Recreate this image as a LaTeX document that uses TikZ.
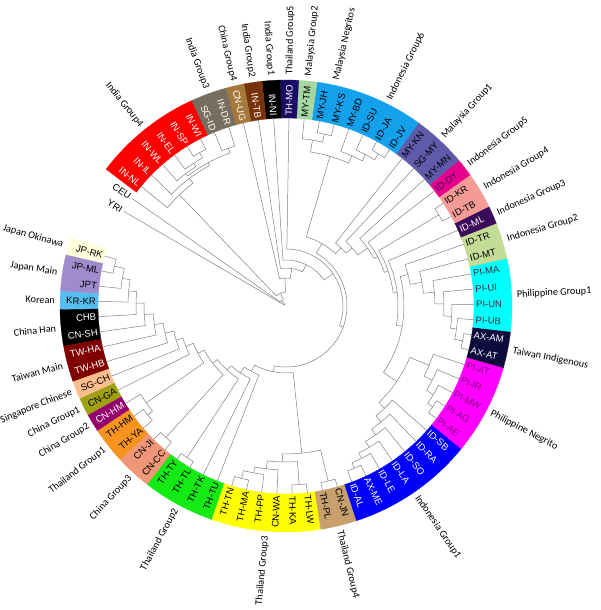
\documentclass[tikz,border=0pt]{standalone}
\usepackage{fontspec}
\setmainfont{Liberation Sans}
\newfontfamily\grpfont{Carlito}
\usetikzlibrary{positioning}

\definecolor{cCream}{RGB}{255,255,220}
\definecolor{cLav}{RGB}{160,140,205}
\definecolor{cKor}{RGB}{85,190,240}
\definecolor{cDRed}{RGB}{128,0,0}
\definecolor{cPeach}{RGB}{250,190,140}
\definecolor{cOlive}{RGB}{160,160,20}
\definecolor{cPlum}{RGB}{150,0,110}
\definecolor{cOrange}{RGB}{247,147,30}
\definecolor{cSalmon}{RGB}{240,150,120}
\definecolor{cGreen}{RGB}{20,235,20}
\definecolor{cYellow}{RGB}{255,255,0}
\definecolor{cTan}{RGB}{200,160,110}
\definecolor{cBlue}{RGB}{0,0,255}
\definecolor{cMag}{RGB}{255,0,255}
\definecolor{cNavy}{RGB}{15,10,60}
\definecolor{cCyan}{RGB}{0,255,255}
\definecolor{cPaleG}{RGB}{195,220,150}
\definecolor{cDPurp}{RGB}{60,10,90}
\definecolor{cPink}{RGB}{245,155,150}
\definecolor{cDeepPk}{RGB}{230,0,140}
\definecolor{cSlate}{RGB}{95,90,170}
\definecolor{cSky}{RGB}{20,160,235}
\definecolor{cLtGreen}{RGB}{165,215,160}
\definecolor{cMoNavy}{RGB}{25,10,100}
\definecolor{cBrown}{RGB}{120,50,10}
\definecolor{cLtBrown}{RGB}{165,120,60}
\definecolor{cGrBrown}{RGB}{120,110,95}
\definecolor{cRed}{RGB}{255,0,0}
\definecolor{cPiTxt}{RGB}{130,0,130}

% leaf angle from its index
\newcommand\leafang[1]{164.6+(#1-1)*4.664}

% a leaf: name, index
\newcommand\lf[2]{%
  \pgfmathsetmacro\tmpang{\leafang{#2}}%
  \expandafter\xdef\csname dA#1\endcsname{\tmpang}%
  \expandafter\xdef\csname dR#1\endcsname{188}}

% a join: new name, radius, lower child, upper child
\newcommand\jn[4]{%
  \edef\dAa{\csname dA#3\endcsname}\edef\dAb{\csname dA#4\endcsname}%
  \edef\dRa{\csname dR#3\endcsname}\edef\dRb{\csname dR#4\endcsname}%
  \draw[branch] (\dAa:\dRa) -- (\dAa:#2)
    arc[start angle=\dAa, end angle=\dAb, radius=#2] -- (\dAb:\dRb);%
  \pgfmathsetmacro\tmpang{(\dAa+\dAb)/2}%
  \expandafter\xdef\csname dA#1\endcsname{\tmpang}%
  \expandafter\xdef\csname dR#1\endcsname{#2}}

% coloured band of the ring: first, last leaf, colour
\newcommand\band[3]{%
  \pgfmathsetmacro\bA{\leafang{#1-0.5}}%
  \pgfmathsetmacro\bB{\leafang{#2+0.5}}%
  \fill[#3, draw=#3, line width=0.3] (\bA:188) arc[start angle=\bA, end angle=\bB, radius=188]
    -- (\bB:226) arc[start angle=\bB, end angle=\bA, radius=226] -- cycle;}

% text turned along the radius: name, angle, radius, style, text
\newcommand\rtext[5]{%
  \pgfmathsetmacro\tmpang{mod(#2,360)}%
  \pgfmathtruncatemacro\flip{(\tmpang>90 && \tmpang<270) ? 1 : 0}%
  \ifnum\flip=1
    \node[#4, anchor=east, rotate=\tmpang-180] (#1) at (\tmpang:#3) {#5};
  \else
    \node[#4, anchor=west, rotate=\tmpang] (#1) at (\tmpang:#3) {#5};
  \fi}

% leaf label: index, text, colour
\newcommand\lab[3]{\rtext{l#1}{\leafang{#1}}{189}{leaftxt, text=#3}{#2}}
% group label: name, first, last, text
\newcommand\grp[4]{\rtext{#1}{\leafang{(#2+#3)/2}}{231}{grptxt}{#4}}

\begin{document}
\begin{tikzpicture}[x=1pt, y=1pt,
  branch/.style={draw=black!50, line width=0.5},
  leaftxt/.style={inner sep=1, font=\fontsize{9.5}{11}\selectfont},
  grptxt/.style={inner sep=0, font=\grpfont\fontsize{10.2}{12}\selectfont}]
  \useasboundingbox (-286,-304) rectangle (314,306);

  % ring
  \band{1}{1}{cCream}   \band{2}{3}{cLav}     \band{4}{4}{cKor}
  \band{5}{6}{black}    \band{7}{8}{cDRed}    \band{9}{9}{cPeach}
  \band{10}{10}{cOlive} \band{11}{11}{cPlum}  \band{12}{13}{cOrange}
  \band{14}{15}{cSalmon}\band{16}{19}{cGreen} \band{20}{25}{cYellow}
  \band{26}{27}{cTan}   \band{28}{34}{cBlue}  \band{35}{39}{cMag}
  \band{40}{41}{cNavy}  \band{42}{45}{cCyan}  \band{46}{47}{cPaleG}
  \band{48}{48}{cDPurp} \band{49}{50}{cPink}  \band{51}{51}{cDeepPk}
  \band{52}{54}{cSlate} \band{55}{60}{cSky}   \band{61}{61}{cLtGreen}
  \band{62}{62}{cMoNavy}\band{63}{63}{black}  \band{64}{64}{cBrown}
  \band{65}{65}{cLtBrown}\band{66}{67}{cGrBrown}\band{68}{73}{cRed}

  % leaves
  \lf{jprk}{1}\lf{jpml}{2}\lf{jpt}{3}\lf{krkr}{4}\lf{chb}{5}\lf{cnsh}{6}
  \lf{twha}{7}\lf{twhb}{8}\lf{sgch}{9}\lf{cnga}{10}\lf{cnhm}{11}\lf{thhm}{12}
  \lf{thya}{13}\lf{cnji}{14}\lf{cncc}{15}\lf{thty}{16}\lf{thtl}{17}\lf{thtk}{18}
  \lf{thtu}{19}\lf{thtn}{20}\lf{thma}{21}\lf{thpp}{22}\lf{cnwa}{23}\lf{thka}{24}
  \lf{thlw}{25}\lf{thpl}{26}\lf{cnjn}{27}\lf{idal}{28}\lf{axme}{29}\lf{idle}{30}
  \lf{idla}{31}\lf{idso}{32}\lf{idra}{33}\lf{idsb}{34}\lf{piae}{35}\lf{piag}{36}
  \lf{pimw}{37}\lf{piir}{38}\lf{piat}{39}\lf{axat}{40}\lf{axam}{41}\lf{piub}{42}
  \lf{piun}{43}\lf{piui}{44}\lf{pima}{45}\lf{idmt}{46}\lf{idtr}{47}\lf{idml}{48}
  \lf{idtb}{49}\lf{idkr}{50}\lf{iddy}{51}\lf{mymn}{52}\lf{sgmy}{53}\lf{mykn}{54}
  \lf{idjv}{55}\lf{idja}{56}\lf{idsu}{57}\lf{mybd}{58}\lf{myks}{59}\lf{myjh}{60}
  \lf{mytm}{61}\lf{thmo}{62}\lf{inni}{63}\lf{intb}{64}\lf{cnug}{65}\lf{indr}{66}
  \lf{sgid}{67}\lf{inwi}{68}\lf{insp}{69}\lf{inel}{70}\lf{inwl}{71}\lf{inil}{72}
  \lf{innl}{73}\lf{ceu}{74}\lf{yri}{75}

  % north-east Asia and Thailand
  \jn{e1}{176}{jprk}{jpml}  \jn{e2}{166}{e1}{jpt}   \jn{e3}{158}{e2}{krkr}
  \jn{e4}{150}{e3}{chb}     \jn{e5}{142}{e4}{cnsh}  \jn{e6}{133}{e5}{twha}
  \jn{e7}{124}{e6}{twhb}    \jn{e8}{115}{e7}{sgch}  \jn{e9}{108}{e8}{cnga}
  \jn{c1}{176}{thhm}{thya}  \jn{c2}{170}{cnhm}{c1}  \jn{e10}{100}{e9}{c2}
  \jn{c3}{178}{cnji}{cncc}  \jn{e11}{93}{e10}{c3}
  \jn{t1}{181}{thty}{thtl}  \jn{e12}{87}{e11}{t1}   \jn{e13}{81}{e12}{thtk}
  \jn{e14}{74}{e13}{thtu}
  \jn{g1}{178}{thtn}{thma}  \jn{g2}{170}{g1}{thpp}  \jn{g3}{164}{g2}{cnwa}
  \jn{g4}{179}{thka}{thlw}  \jn{g5}{156}{g3}{g4}    \jn{g6}{180}{thpl}{cnjn}
  \jn{g7}{148}{g5}{g6}      \jn{ea}{67}{e14}{g7}
  % Indonesia, Philippines
  \jn{i1}{176}{idal}{axme}  \jn{i2}{170}{i1}{idle}  \jn{i3}{164}{i2}{idla}
  \jn{i4}{157}{i3}{idso}    \jn{i5}{150}{i4}{idra}  \jn{i6}{142}{i5}{idsb}
  \jn{p1}{178}{piae}{piag}  \jn{p2}{172}{p1}{pimw}  \jn{p3}{164}{p2}{piir}
  \jn{p4}{155}{p3}{piat}    \jn{s1}{134}{i6}{p4}
  \jn{q1}{180}{axat}{axam}  \jn{q2}{172}{q1}{piub}  \jn{q3}{166}{q2}{piun}
  \jn{q4}{158}{q3}{piui}    \jn{q5}{149}{q4}{pima}  \jn{q6}{138}{q5}{idmt}
  \jn{q7}{126}{q6}{idtr}    \jn{s2}{118}{s1}{q7}    \jn{s3}{112}{s2}{idml}
  \jn{k1}{178}{idtb}{idkr}  \jn{s4}{108}{s3}{k1}    \jn{s5}{104}{s4}{iddy}
  \jn{s6}{100}{s5}{mymn}    \jn{s7}{88}{s6}{sgmy}   \jn{s8}{80}{s7}{mykn}
  % Malaysia
  \jn{j1}{178}{idjv}{idja}  \jn{j2}{171}{j1}{idsu}  \jn{j3}{164}{j2}{mybd}
  \jn{n1}{176}{myks}{myjh}  \jn{n2}{168}{n1}{mytm}  \jn{j4}{156}{j3}{n2}
  \jn{s9}{72}{s8}{j4}
  % India
  \jn{w1}{176}{inwi}{insp}  \jn{w2}{170}{w1}{inel}  \jn{w3}{166}{w2}{inwl}
  \jn{d1}{168}{indr}{sgid}  \jn{w4}{163}{d1}{w3}    \jn{w5}{160}{w4}{inil}
  \jn{w6}{154}{w5}{innl}
  % core
  \jn{r1}{61}{ea}{s9}       \jn{r2}{57}{r1}{thmo}   \jn{r3}{46}{r2}{inni}
  \jn{r4}{38}{r3}{intb}     \jn{r5}{28}{r4}{cnug}
  \jn{r6}{14}{r5}{w6}       \jn{r7}{7}{r6}{ceu}     \jn{r8}{2}{r7}{yri}

  % leaf labels
  \lab{1}{JP-RK}{black}  \lab{2}{JP-ML}{black}  \lab{3}{JPT}{black}
  \lab{4}{KR-KR}{black}  \lab{5}{CHB}{white}    \lab{6}{CN-SH}{white}
  \lab{7}{TW-HA}{white}  \lab{8}{TW-HB}{white}  \lab{9}{SG-CH}{black}
  \lab{10}{CN-GA}{black} \lab{11}{CN-HM}{white} \lab{12}{TH-HM}{black}
  \lab{13}{TH-YA}{black} \lab{14}{CN-JI}{black} \lab{15}{CN-CC}{black}
  \lab{16}{TH-TY}{black} \lab{17}{TH-TL}{black} \lab{18}{TH-TK}{black}
  \lab{19}{TH-TU}{black} \lab{20}{TH-TN}{black} \lab{21}{TH-MA}{black}
  \lab{22}{TH-PP}{black} \lab{23}{CN-WA}{black} \lab{24}{TH-KA}{black}
  \lab{25}{TH-LW}{black} \lab{26}{TH-PL}{black} \lab{27}{CN-JN}{black}
  \lab{28}{ID-AL}{white} \lab{29}{AX-ME}{white} \lab{30}{ID-LE}{white}
  \lab{31}{ID-LA}{white} \lab{32}{ID-SO}{white} \lab{33}{ID-RA}{white}
  \lab{34}{ID-SB}{white} \lab{35}{PI-AE}{cPiTxt} \lab{36}{PI-AG}{cPiTxt}
  \lab{37}{PI-MW}{cPiTxt} \lab{38}{PI-IR}{cPiTxt} \lab{39}{PI-AT}{cPiTxt}
  \lab{40}{AX-AT}{white} \lab{41}{AX-AM}{white} \lab{42}{PI-UB}{black!80}
  \lab{43}{PI-UN}{black!80} \lab{44}{PI-UI}{black!80} \lab{45}{PI-MA}{black!80}
  \lab{46}{ID-MT}{black} \lab{47}{ID-TR}{black} \lab{48}{ID-ML}{white}
  \lab{49}{ID-TB}{black} \lab{50}{ID-KR}{black} \lab{51}{ID-DY}{cDPurp}
  \lab{52}{MY-MN}{black} \lab{53}{SG-MY}{black} \lab{54}{MY-KN}{black}
  \lab{55}{ID-JV}{black} \lab{56}{ID-JA}{black} \lab{57}{ID-SU}{black}
  \lab{58}{MY-BD}{black} \lab{59}{MY-KS}{black} \lab{60}{MY-JH}{black}
  \lab{61}{MY-TM}{black} \lab{62}{TH-MO}{white} \lab{63}{IN-NI}{white}
  \lab{64}{IN-TB}{white} \lab{65}{CN-UG}{white} \lab{66}{IN-DR}{white}
  \lab{67}{SG-ID}{white} \lab{68}{IN-WI}{white} \lab{69}{IN-SP}{white}
  \lab{70}{IN-EL}{white} \lab{71}{IN-WL}{white} \lab{72}{IN-IL}{white}
  \lab{73}{IN-NL}{white} \lab{74}{CEU}{black}   \lab{75}{YRI}{black}

  % group labels
  \grp{gJpOk}{1}{1}{Japan Okinawa}        \grp{gJpMa}{2}{3}{Japan Main}
  \grp{gKor}{4}{4}{Korean}                \grp{gCnHan}{5}{6}{China Han}
  \grp{gTwMa}{7}{8}{Taiwan Main}          \grp{gSgCn}{9}{9}{Singapore Chinese}
  \grp{gCn1}{10}{10}{China Group1}        \grp{gCn2}{11}{11}{China Group2}
  \grp{gTh1}{12}{13}{Thailand Group1}     \grp{gCn3}{14}{15}{China Group3}
  \grp{gTh2}{16}{19}{Thailand Group2}     \grp{gTh3}{20}{25}{Thailand Group3}
  \grp{gTh4}{26}{27}{Thailand Group4}     \grp{gId1}{28}{34}{Indonesia Group1}
  \grp{gPiNe}{35}{39}{Philippine Negrito} \grp{gTwIn}{40}{41}{Taiwan Indigenous}
  \grp{gPi1}{42}{45}{Philippine Group1}   \grp{gId2}{46}{47}{Indonesia Group2}
  \grp{gId3}{48}{48}{Indonesia Group3}    \grp{gId4}{49}{50}{Indonesia Group4}
  \grp{gId5}{51}{51}{Indonesia Group5}    \grp{gMy1}{52}{54}{Malaysia Group1}
  \grp{gId6}{55}{58}{Indonesia Group6}    \grp{gMyNe}{59}{60}{Malaysia Negritos}
  \grp{gMy2}{61}{61}{Malaysia Group2}     \grp{gTh5}{62}{62}{Thailand Group5}
  \grp{gIn1}{63}{63}{India Group1}        \grp{gIn2}{64}{64}{India Group2}
  \grp{gCn4}{65}{65}{China Group4}        \grp{gIn3}{66}{67}{India Group3}
  \grp{gIn4}{68}{73}{India Group4}
\end{tikzpicture}
\end{document}
